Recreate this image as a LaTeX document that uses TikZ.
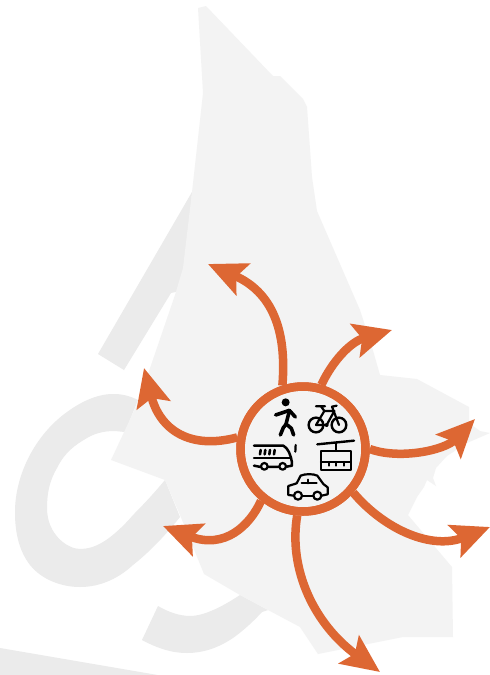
\documentclass[tikz,border=0pt]{standalone}
\usetikzlibrary{arrows.meta,calc}
\definecolor{maplight}{HTML}{F3F3F3}
\definecolor{mapdark}{HTML}{EBEBEB}
\definecolor{ringorange}{HTML}{DD6733}
\tikzset{
  flow/.style={draw=ringorange,line width=8.5pt,-{Stealth[length=38pt,width=34pt,inset=7pt,fill=ringorange]}},
  hub/.style={circle,draw=ringorange,line width=8.5pt,fill=maplight,minimum size=125pt,inner sep=0pt},
  icon/.style={draw=black,line width=2.2pt,line join=round,line cap=round},
  walker/.style={draw=black,line width=3.6pt,line cap=round,line join=round}
}
\begin{document}
\begin{tikzpicture}[x=1pt,y=-1pt]
\useasboundingbox (0,0) rectangle (490,675);
\fill[white] (0,0) rectangle (490,675);
% dark backdrop
\fill[mapdark] (192,192) -- (98,354) -- (124,370) -- (171,293) -- (185,290) -- cycle;
\fill[mapdark] (0,648) -- (157,674.9) -- (0,674.9) -- cycle;
\fill[mapdark] (138,400) .. controls (128,395) and (120,394) .. (113,394)
  .. controls (95,394) and (78,404) .. (67,412)
  .. controls (35,435) and (15,475) .. (15,512)
  .. controls (15,535) and (20,552) .. (30,565)
  .. controls (42,580) and (62,587) .. (80,587)
  .. controls (102,587) and (120,577) .. (133,565)
  .. controls (152,550) and (168,532) .. (180,517)
  -- (165,480)
  .. controls (155,492) and (145,503) .. (133,515)
  .. controls (122,528) and (110,538) .. (103,542)
  .. controls (95,547) and (87,549) .. (80,549)
  .. controls (68,549) and (47,535) .. (47,508)
  .. controls (47,492) and (50,480) .. (57,468)
  .. controls (65,452) and (75,445) .. (87,438)
  .. controls (97,432) and (107,431) .. (115,431)
  -- (125,432) -- cycle;
\fill[mapdark] (158,606) .. controls (168,612) and (180,616) .. (190,616)
  .. controls (205,616) and (225,605) .. (240,595)
  -- (268,610) -- (262,612)
  .. controls (250,625) and (240,633) .. (233,638)
  .. controls (218,648) and (203,653) .. (187,653)
  .. controls (170,653) and (155,647) .. (142,640) -- cycle;
% city outline
\fill[maplight] (198,8) -- (206,6) -- (273,76) -- (280,76) -- (303,99) -- (307,107)
  -- (312,177) -- (317,211) -- (360,310) -- (372,347) -- (380,375) -- (417,379)
  -- (469,407) -- (469,423) -- (480,431) -- (490,433) -- (467,443) -- (447,456)
  -- (436,468) -- (433,478) -- (436,486) -- (427,480) -- (424,487) -- (417,497)
  -- (408,515) -- (452,567) -- (453,637) -- (403,637) -- (318,654) -- (300,627)
  -- (268,610) -- (240,595) -- (204,574) -- (180,515) -- (165,480) -- (111,460)
  -- (140,398) -- (147,377) -- (175,295) -- (183,268) -- (192,192) -- (203,93) -- cycle;
% hub and arrows
\coordinate (tipA) at (208,264);
\coordinate (tipB) at (392,330);
\coordinate (tipC) at (475,419);
\coordinate (tipD) at (490,527);
\coordinate (tipE) at (380,672);
\coordinate (tipF) at (163,526);
\coordinate (tipG) at (144,368);
\node[hub] (hub) at (303,449) {};
\draw[flow] (hub.108) .. controls (287,330) and (272,292) .. (tipA);
\draw[flow] (hub.74) .. controls (332,362) and (350,342) .. (tipB);
\draw[flow] (hub.0) .. controls (400,460) and (445,450) .. (tipC);
\draw[flow] (hub.-41) .. controls (385,530) and (432,550) .. (tipD);
\draw[flow] (hub.-95) .. controls (288,570) and (315,625) .. (tipE);
\draw[flow] (hub.-129) .. controls (250,525) and (225,550) .. (tipF);
\draw[flow] (hub.170) .. controls (190,450) and (160,430) .. (tipG);
\node[hub,fill=none] (ring) at (303,449) {};
% icons, drawn in the 3x crop's units
\begin{scope}[shift={(230,375)},x=0.3333pt,y=-0.3333pt]
  % pedestrian
  \fill[black] (167,82) circle (12);
  \draw[walker] (178,108) -- (168,148);
  \draw[walker] (137,120) -- (158,113) -- (178,106) -- (196,126);
  \draw[walker] (168,148) -- (160,158) -- (151,180);
  \draw[walker] (172,150) -- (184,160) -- (191,180);
  % bicycle
  \draw[icon,line width=2.4pt] (258,150) circle (22) (327,150) circle (22);
  \draw[icon] (258,150) -- (283,108) -- (313,108) -- (290,150) -- cycle;
  \draw[icon] (327,150) -- (306,95) -- (320,92);
  \draw[icon] (283,108) -- (273,94) (258,94) -- (285,94);
  \fill[black] (290,150) circle (6);
  % bus
  \draw[icon,line width=2.5pt] (72,212) -- (160,212) .. controls (175,220) and (182,240) .. (186,262)
    -- (186,272) -- (170,275) (146,276) -- (115,276) (92,276) -- (72,272) -- cycle;
  \draw[icon] (72,250) -- (184,250);
  \draw[icon,line width=2.6pt] (92,225) -- (90,238) (106,225) -- (104,238) (120,225) -- (118,238) (134,225) -- (132,238);
  \draw[icon] (103,274) circle (10) (158,274) circle (10);
  \draw[icon] (197,210) -- (196,230);
  % gondola
  \draw[icon,line width=2.4pt] (262,208) -- (372,197);
  \draw[icon] (317,205) -- (317,226);
  \draw[icon] (273,227) rectangle (362,286);
  \draw[icon] (273,261) -- (362,261);
  \draw[icon] (297,261) -- (297,272) (318,261) -- (318,272) (342,261) -- (342,272);
  % car
  \draw[icon] (192,362) -- (175,360) -- (175,333) -- (200,325) -- (212,302)
    .. controls (225,296) and (250,296) .. (262,302) -- (280,327) -- (293,337) -- (293,358) -- (275,362);
  \draw[icon] (217,362) -- (250,362);
  \draw[icon] (215,325) -- (260,325) (234,314) -- (234,325);
  \draw[icon] (204,362) circle (12) (262,362) circle (12);
\end{scope}
\end{tikzpicture}
\end{document}
